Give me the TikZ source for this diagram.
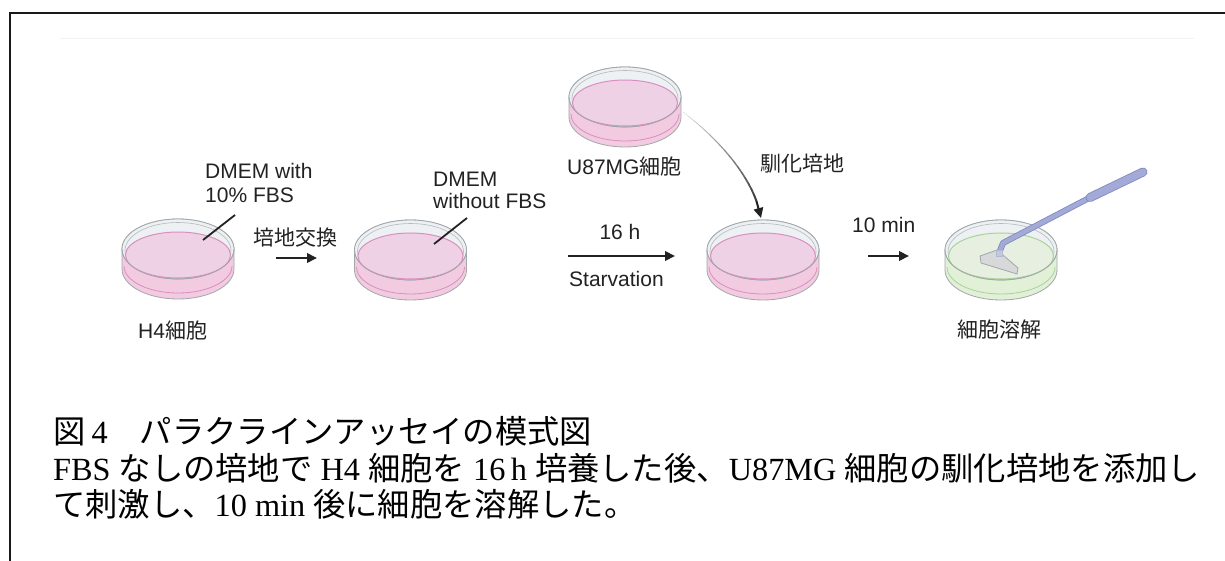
\documentclass[tikz,border=0pt]{standalone}
\usepackage{fontspec}
\setmainfont{Liberation Serif}
\newfontfamily\lsans{Liberation Sans}
\newfontfamily\jp{Noto Sans CJK JP}
\usetikzlibrary{arrows.meta}

\definecolor{ink}{HTML}{222222}
\definecolor{rimgray}{HTML}{A2A7AA}
\definecolor{rimfill}{HTML}{EEF1F3}
\definecolor{pinkbody}{HTML}{F2CBE0}
\definecolor{pinksurf}{HTML}{EFD1E5}
\definecolor{pinkedge}{HTML}{D98FBF}
\definecolor{greenbody}{HTML}{E2F0D8}
\definecolor{greensurf}{HTML}{E6EFE0}
\definecolor{greenedge}{HTML}{A6D497}
\definecolor{handle}{HTML}{A3AAD8}
\definecolor{handleline}{HTML}{7E88BE}
\definecolor{blade}{HTML}{D6D8DA}
\definecolor{bladeline}{HTML}{A4A7AA}

\tikzset{
  % culture dish seen from above at an angle; origin = top centre of the rim
  pics/petri/.style n args={3}{code={
    \path[fill=#1, draw=rimgray, line width=0.8pt]
      (-56,30) arc[start angle=180, end angle=360, x radius=56, y radius=30]
      -- (56,50) arc[start angle=0, end angle=180, x radius=56, y radius=30] -- cycle;
    \path[fill=rimfill, draw=rimgray, line width=0.8pt] (0,30) ellipse[x radius=56, y radius=30];
    \draw[rimgray!80, line width=0.6pt] (0,31.5) ellipse[x radius=53, y radius=28];
    \path[fill=#2, draw=#3, line width=1pt] (0,36) ellipse[x radius=52.5, y radius=23];
    \draw[rimgray, line width=0.7pt] (56,30) arc[start angle=0, end angle=180, x radius=56, y radius=30];
    \draw[#3, line width=0.8pt] (54,47) arc[start angle=0, end angle=180, x radius=54, y radius=27];
  }},
  lab/.style={font=\lsans\fontsize{21}{25}\selectfont, inner sep=0pt, anchor=base west, text=ink},
  jlab/.style={font=\jp\fontsize{21}{25}\selectfont, inner sep=0pt, anchor=base west, text=ink},
  flow/.style={draw=ink, line width=2pt, -{Triangle[length=10pt,width=9.5pt]}},
  leader/.style={draw=ink, line width=1.8pt},
  capt/.style={font=\fontsize{32.3}{40}\selectfont, inner sep=0pt, anchor=base west, text=black},
}

\begin{document}
\begin{tikzpicture}[x=1pt, y=-1pt]
\useasboundingbox (0,0) rectangle (1225,561);
\fill[white] (0,0) rectangle (1225,561);

% frame
\draw[line width=2.6pt, draw=black!90, line join=miter] (1230,13) -- (10,13) -- (10,566);
\draw[black!5, line width=0.8pt] (60,38) -- (1194,38);

% dishes
\pic at (178,219) {petri={pinkbody}{pinksurf}{pinkedge}};
\pic at (410.5,220) {petri={pinkbody}{pinksurf}{pinkedge}};
\pic at (625,67) {petri={pinkbody}{pinksurf}{pinkedge}};
\pic at (763,220) {petri={pinkbody}{pinksurf}{pinkedge}};
\pic at (1001,220) {petri={greenbody}{greensurf}{greenedge}};

% cell scraper
\path[fill=blade, draw=bladeline, line width=0.8pt, line join=round]
  (980,256) -- (997,250) -- (1018,268) -- (1017,274) -- (981,263) -- cycle;
\draw[handleline, line width=6pt, line cap=round, line join=round] (999.5,252) -- (1003,243) -- (1091,197);
\draw[handle, line width=4.4pt, line cap=round, line join=round] (999.5,252) -- (1003,243) -- (1091,197);
\draw[handleline, line width=9pt, line cap=round] (1090,197.5) -- (1143,172);
\draw[handle, line width=7.4pt, line cap=round] (1090,197.5) -- (1143,172);
\path[fill=handle!35!blade, draw=handleline!60, line width=0.6pt] (996.5,250) rectangle (1002.5,256);

% connector end points
\coordinate (a1s) at (276,258);  \coordinate (a1e) at (317,258);
\coordinate (a2s) at (568,256);  \coordinate (a2e) at (675,256);
\coordinate (a3s) at (868,256);  \coordinate (a3e) at (909,256);
\coordinate (l1s) at (235,215);  \coordinate (l1e) at (203,240);
\coordinate (l2s) at (467,218);  \coordinate (l2e) at (434,244);

\draw[flow] (a1s) -- (a1e);
\draw[flow] (a2s) -- (a2e);
\draw[flow] (a3s) -- (a3e);
\draw[leader] (l1s) -- (l1e);
\draw[leader] (l2s) -- (l2e);

% conditioned medium transfer: a curve that darkens and thickens towards its tip
\coordinate (cs) at (683,112);
\coordinate (ce) at (761,218);
\foreach \i in {0,...,20}{
  \pgfmathsetmacro\tt{\i/20}
  \pgfmathsetmacro\xq{(1-\tt)^3*683+3*(1-\tt)^2*\tt*720+3*(1-\tt)*\tt^2*755+\tt^3*761}
  \pgfmathsetmacro\yq{(1-\tt)^3*112+3*(1-\tt)^2*\tt*140+3*(1-\tt)*\tt^2*180+\tt^3*218}
  \coordinate (q\i) at (\xq,\yq);
}
\foreach \i in {1,...,17}{
  \pgfmathtruncatemacro\j{\i-1}
  \pgfmathsetmacro\w{0.5+1.5*\i/18}
  \pgfmathtruncatemacro\k{12+80*\i/18}
  \draw[line width=\w pt, draw=ink!\k, line cap=round] (q\j) -- (q\i);
}
\draw[flow] (q17) -- (ce);

% labels
\node[lab] (m1a) at (205,179) {DMEM with};
\node[lab] (m1b) at (205,203) {10\% FBS};
\node[jlab] (chg) at (253,245) {培地交換};
\node[lab] (h4) at (138,338) {H4{\jp\fontsize{21}{25}\selectfont 細胞}};
\node[lab] (m2a) at (433,187) {DMEM};
\node[lab] (m2b) at (433,209) {without FBS};
\node[lab, anchor=base] (t16) at (620,240) {16 h};
\node[lab] (stv) at (569,286) {Starvation};
\node[lab] (u87) at (567,175) {U87MG{\jp\fontsize{21}{25}\selectfont 細胞}};
\node[jlab] (cm) at (760,172) {馴化培地};
\node[lab] (t10) at (852,233) {10 min};
\node[jlab] (lys) at (957,337) {細胞溶解};

% caption
\node[capt] (cap1) at (53,443) {{\jp 図}\hspace{6pt}4{\jp 　パラクラインアッセイの模式図}};
\node[capt] (cap2) at (53,480) {FBS {\jp なしの培地で} H4 {\jp 細胞を} 16\,h {\jp 培養した後、}U87MG {\jp 細胞の馴化培地を添加し}};
\node[capt] (cap3) at (53,516) {{\jp て刺激し、}10 min {\jp 後に細胞を溶解した。}};
\end{tikzpicture}
\end{document}
